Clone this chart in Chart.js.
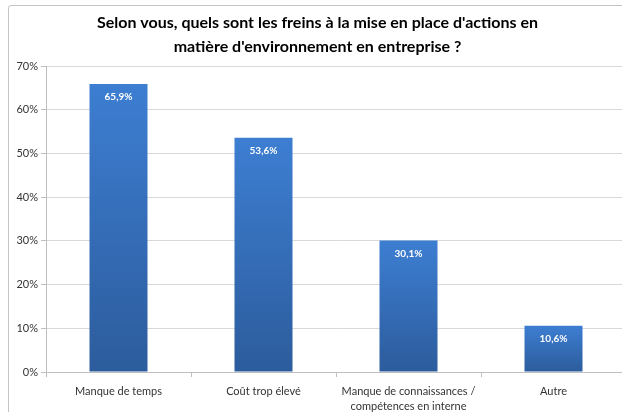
<!DOCTYPE html>
<html>
<head>
<meta charset="utf-8">
<script src="https://cdn.jsdelivr.net/npm/chart.js@4.4.1/dist/chart.umd.min.js"></script>
<style>
	body { margin: 0; background: #fff; overflow: hidden; width: 622px; height: 412px; }
	#frame { position: absolute; left: 8px; top: 5px; width: 640px; height: 420px; border: 1px solid #c4c4c4; border-radius: 3px; background: #fff; }
	#chart { display: block; }
</style>
</head>
<body>
<div id="frame"><canvas id="chart" width="640" height="420"></canvas></div>
<script>
const titleLines = ["Selon vous, quels sont les freins à la mise en place d'actions en", "matière d'environnement en entreprise ?"];
const categories = ["Manque de temps", "Coût trop élevé", ["Manque de connaissances /", "compétences en interne"], "Autre"];
const values = [65.9, 53.6, 30.1, 10.6];
const yTicks = [0, 10, 20, 30, 40, 50, 60, 70];

const fontName = "Lato, 'Open Sans', sans-serif";

// degrade vertical par barre (clair en haut, fonce en bas)
function barGradient(context) {
	const chart = context.chart;
	const y = chart.scales.y;
	if (!chart.chartArea || !y) return "#3a75c4";
	const v = context.raw;
	const top = y.getPixelForValue(v);
	const bottom = y.getPixelForValue(0);
	if (!isFinite(top) || !isFinite(bottom) || top === bottom) return "#3a75c4";
	const g = chart.ctx.createLinearGradient(0, top, 0, bottom);
	g.addColorStop(0, "#3d7ed2");
	g.addColorStop(1, "#2c5c9c");
	return g;
}

const valueLabels = {
	id: "valueLabels",
	afterDatasetsDraw(chart) {
		const ctx = chart.ctx;
		const meta = chart.getDatasetMeta(0);
		ctx.save();
		ctx.fillStyle = "#ffffff";
		ctx.font = "bold 10px " + fontName;
		ctx.textAlign = "center";
		ctx.textBaseline = "middle";
		meta.data.forEach((bar, i) => {
			const txt = values[i].toFixed(1).replace(".", ",") + "%";
			ctx.fillText(txt, bar.x, bar.y + 13);
		});
		ctx.restore();
	}
};

new Chart(document.querySelector("#chart"), {
	type: "bar",
	data: {
		labels: categories,
		datasets: [{
			data: values,
			backgroundColor: barGradient,
			borderWidth: 0,
			barPercentage: 0.4,
			categoryPercentage: 1
		}]
	},
	options: {
		responsive: false,
		animation: false,
		layout: { padding: { left: 0, right: 23, top: 0, bottom: 0 } },
		plugins: {
			legend: { display: false },
			tooltip: { enabled: false },
			title: {
				display: true,
				text: titleLines,
				color: "#000",
				font: { family: fontName, size: 16, weight: "bold", lineHeight: 1.5 },
				padding: { top: 5, bottom: 7 }
			}
		},
		scales: {
			x: {
				grid: { offset: true, drawOnChartArea: false, drawTicks: true, tickLength: 5, tickColor: "#bfbfbf" },
				border: { color: "#bfbfbf" },
				ticks: { color: "#333", font: { family: fontName, size: 11, lineHeight: 1.36 }, padding: 7, maxRotation: 0 },
				afterFit(scale) { scale.height = 54; }
			},
			y: {
				min: 0,
				max: 70,
				afterBuildTicks(scale) { scale.ticks = yTicks.map(v => ({ value: v })); },
				ticks: { color: "#333", font: { family: fontName, size: 11 }, padding: 3, callback: v => v + "%" },
				grid: { color: "#d9d9d9", tickLength: 5, tickColor: "#bfbfbf" },
				border: { color: "#bfbfbf" },
				afterFit(scale) { scale.width = 37; }
			}
		}
	},
	plugins: [valueLabels]
});
</script>
</body>
</html>
